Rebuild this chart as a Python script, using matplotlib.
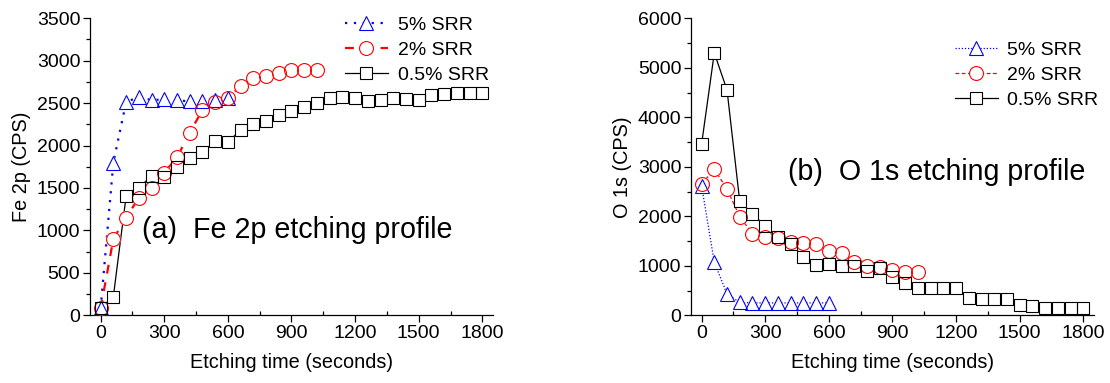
import matplotlib
matplotlib.use("Agg")
import matplotlib.pyplot as plt
from matplotlib.lines import Line2D
from matplotlib.ticker import MultipleLocator

plt.rcParams['font.family'] = ['Liberation Sans', 'DejaVu Sans']

# etching times (s)
t_5 = [0, 60, 120, 180, 240, 300, 360, 420, 480, 540, 600]
t_2 = [0, 60, 120, 180, 240, 300, 360, 420, 480, 540, 600,
       660, 720, 780, 840, 900, 960, 1020]
t_05 = [0, 60, 120, 180, 240, 300, 360, 420, 480, 540, 600,
        660, 720, 780, 840, 900, 960, 1020, 1080, 1140, 1200,
        1260, 1320, 1380, 1440, 1500, 1560, 1620, 1680, 1740, 1800]

# (a) Fe 2p
fe_5 = [80, 1800, 2510, 2575, 2535, 2545, 2535, 2520, 2525, 2540, 2560]
fe_2 = [80, 900, 1150, 1385, 1500, 1680, 1860, 2150, 2420, 2515, 2560,
        2700, 2800, 2820, 2860, 2890, 2895, 2890]
fe_05 = [85, 220, 1400, 1500, 1645, 1635, 1750, 1850, 1920, 2055, 2040,
         2185, 2255, 2285, 2360, 2405, 2450, 2500, 2555, 2575, 2565,
         2530, 2540, 2555, 2545, 2540, 2600, 2610, 2615, 2615, 2620]

# (b) O 1s
o_5 = [2620, 1070, 430, 260, 250, 250, 250, 250, 250, 250, 250]
o_2 = [2650, 2950, 2550, 1990, 1650, 1580, 1560, 1480, 1460, 1450, 1305,
       1255, 1080, 1005, 985, 910, 875, 875]
o_05 = [3455, 5300, 4550, 2300, 2055, 1800, 1580, 1450, 1180, 1015, 1045,
        1005, 1005, 895, 965, 780, 645, 555, 555, 555, 555,
        350, 335, 335, 335, 210, 190, 140, 140, 140, 140]

labels = ['5% SRR', '2% SRR', '0.5% SRR']
colors = ['#0000ff', '#ff0000', '#000000']
markers = ['^', 'o', 's']
msizes = [9.5, 10, 8]

fig = plt.figure(figsize=(11.1, 3.83), dpi=100)
ax1 = fig.add_axes([0.0811, 0.1768, 0.363, 0.7755])
ax2 = fig.add_axes([0.6225, 0.1768, 0.363, 0.7755])


def draw(ax, xs, ys, styles, widths):
    # lines underneath, white-filled markers to hide lines, then open outlines
    for x, y, c, ls, lw in zip(xs, ys, colors, styles, widths):
        ax.plot(x, y, color=c, ls=ls, lw=lw, zorder=1)
    for x, y, c, m, ms in zip(xs, ys, colors, markers, msizes):
        ax.plot(x, y, ls='none', marker=m, ms=ms, mfc='white', mec='white',
                mew=0.8, zorder=2)
    for x, y, c, m, ms in zip(xs, ys, colors, markers, msizes):
        ax.plot(x, y, ls='none', marker=m, ms=ms, mfc='none', mec=c,
                mew=0.8, zorder=3)
    handles = [Line2D([], [], color=c, ls=ls, lw=lw, marker=m, ms=ms,
                      mfc='white', mec=c, mew=0.8)
               for c, ls, lw, m, ms in zip(colors, styles, widths, markers, msizes)]
    return handles


def style(ax, ymax, ymaj, ylabel):
    ax.set_xlim(-50, 1850)
    ax.set_ylim(0, ymax)
    ax.xaxis.set_major_locator(MultipleLocator(300))
    ax.xaxis.set_minor_locator(MultipleLocator(150))
    ax.yaxis.set_major_locator(MultipleLocator(ymaj))
    ax.yaxis.set_minor_locator(MultipleLocator(ymaj / 2))
    for s in ['top', 'right']:
        ax.spines[s].set_visible(False)
    for s in ['left', 'bottom']:
        ax.spines[s].set_linewidth(0.9)
    ax.tick_params(which='major', direction='out', length=5, width=0.9,
                   labelsize=14, pad=2)
    ax.tick_params(axis='y', which='minor', direction='out', length=3, width=0.9)
    ax.tick_params(axis='x', which='minor', direction='in', length=3, width=0.9)
    ax.set_xlabel('Etching time (seconds)', fontsize=14.3, labelpad=8)
    ax.set_ylabel(ylabel, fontsize=14.3, labelpad=4)


h1 = draw(ax1, [t_5, t_2, t_05], [fe_5, fe_2, fe_05],
          [(0, (1, 3)), (0, (4, 4)), '-'], [1.6, 1.6, 0.9])
style(ax1, 3500, 500, 'Fe 2p (CPS)')
ax1.legend(h1, labels, loc='upper left', bbox_to_anchor=(0.633, 1.006),
           frameon=False, fontsize=14, handlelength=2.2, handletextpad=0.5,
           labelspacing=0.38, borderpad=0, borderaxespad=0)
ax1.text(0.128, 0.26, '(a)  Fe 2p etching profile', transform=ax1.transAxes,
         fontsize=20.6, ha='left', va='baseline')

h2 = draw(ax2, [t_5, t_2, t_05], [o_5, o_2, o_05],
          [(0, (1, 1.5)), (0, (3, 2)), '-'], [0.9, 0.9, 0.9])
style(ax2, 6000, 1000, 'O 1s (CPS)')
ax2.legend(h2, labels, loc='upper left', bbox_to_anchor=(0.655, 0.923),
           frameon=False, fontsize=14, handlelength=2.2, handletextpad=0.5,
           labelspacing=0.38, borderpad=0, borderaxespad=0)
ax2.text(0.2415, 0.4556, '(b)  O 1s etching profile', transform=ax2.transAxes,
         fontsize=20.6, ha='left', va='baseline')

fig.savefig('out.png', dpi=100)
